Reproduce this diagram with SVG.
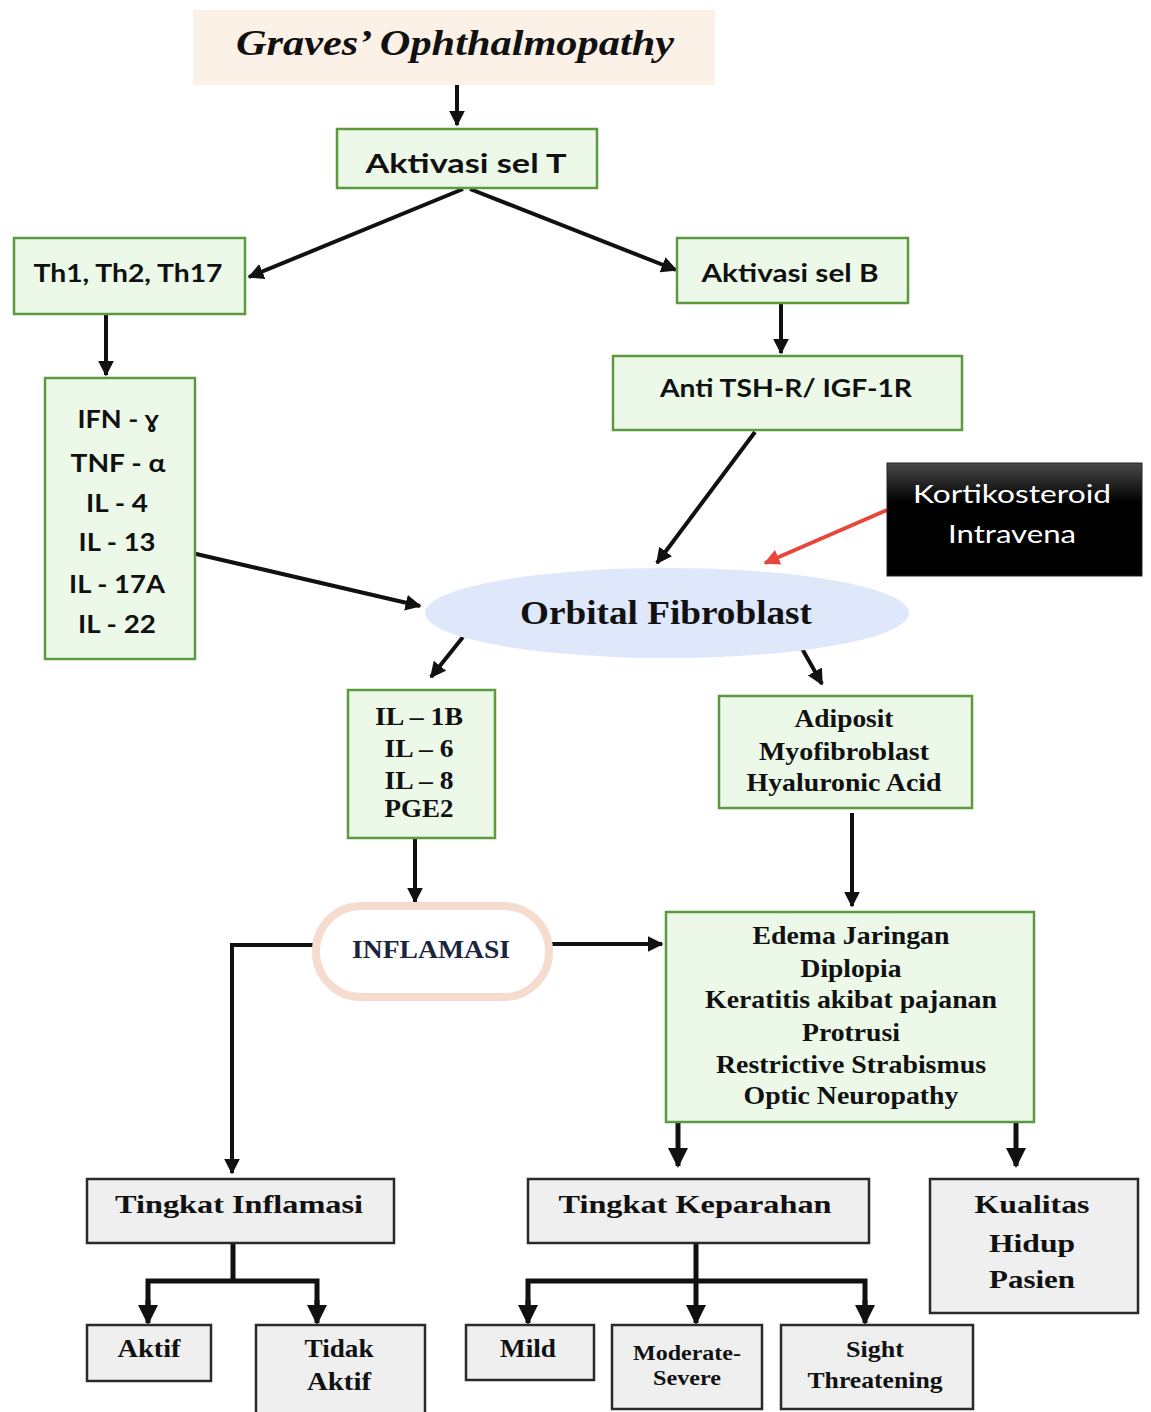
<svg xmlns="http://www.w3.org/2000/svg" width="1151" height="1412" viewBox="0 0 1151 1412">
<defs>
<style>
.g{fill:#ecf9e9;stroke:#5b9a3e;stroke-width:2.5}
.gr{fill:#efefef;stroke:#2a2a2a;stroke-width:2.5}
.s{font-family:Lato,"Open Sans","Liberation Sans",sans-serif;font-weight:bold;fill:#111;text-anchor:middle}
.t{font-family:"Liberation Serif","DejaVu Serif",serif;font-weight:bold;fill:#111;text-anchor:middle}
.c{stroke:#111;stroke-width:4;fill:none}
.ct{stroke:#111;stroke-width:5;fill:none}
</style>
<marker id="ah" viewBox="0 0 10 10" refX="9" refY="5" markerWidth="16" markerHeight="16" markerUnits="userSpaceOnUse" orient="auto">
<path d="M0,0 L10,5 L0,10 z" fill="#111"/>
</marker>
<marker id="ahb" viewBox="0 0 10 10" refX="9" refY="5" markerWidth="20" markerHeight="20" markerUnits="userSpaceOnUse" orient="auto">
<path d="M0,0 L10,5 L0,10 z" fill="#111"/>
</marker>
<marker id="ahr" viewBox="0 0 10 10" refX="9" refY="5" markerWidth="16" markerHeight="16" markerUnits="userSpaceOnUse" orient="auto">
<path d="M0,0 L10,5 L0,10 z" fill="#e8463a"/>
</marker>
<linearGradient id="kg" x1="0" y1="0" x2="0" y2="1">
<stop offset="0" stop-color="#4a4a4a"/>
<stop offset="0.35" stop-color="#000"/>
<stop offset="1" stop-color="#000"/>
</linearGradient>
</defs>
<rect width="1151" height="1412" fill="#fff"/>

<g id="connectors">
<line class="c" x1="457" y1="85" x2="457" y2="125" marker-end="url(#ah)"/>
<line class="c" x1="463" y1="189" x2="249" y2="277" marker-end="url(#ah)"/>
<line class="c" x1="470" y1="189" x2="676" y2="270" marker-end="url(#ah)"/>
<line class="c" x1="106" y1="314" x2="106" y2="375" marker-end="url(#ah)"/>
<line class="c" x1="781" y1="303" x2="781" y2="353" marker-end="url(#ah)"/>
<line class="c" x1="755" y1="432" x2="657" y2="563" marker-end="url(#ah)"/>
<line x1="887" y1="510" x2="765" y2="563" stroke="#e8463a" stroke-width="4" marker-end="url(#ahr)"/>
<line class="c" x1="192" y1="553" x2="420" y2="606" marker-end="url(#ah)"/>
<line class="c" x1="463" y1="637" x2="431" y2="677" marker-end="url(#ah)"/>
<line class="c" x1="800" y1="645" x2="822" y2="684" marker-end="url(#ah)"/>
<line class="c" x1="415" y1="838" x2="415" y2="902" marker-end="url(#ah)"/>
<line class="c" x1="852" y1="813" x2="852" y2="906" marker-end="url(#ah)"/>
<polyline class="c" points="315,945 232,945 232,1173" marker-end="url(#ah)"/>
<line class="c" x1="552" y1="944" x2="662" y2="944" marker-end="url(#ah)"/>
<line class="ct" x1="678" y1="1122" x2="678" y2="1166" marker-end="url(#ahb)"/>
<line class="ct" x1="1016" y1="1122" x2="1016" y2="1166" marker-end="url(#ahb)"/>
<line class="ct" x1="233" y1="1243" x2="233" y2="1281"/>
<polyline class="ct" points="148,1310 148,1281 317,1281 317,1310"/>
<line class="ct" x1="148" y1="1300" x2="148" y2="1323" marker-end="url(#ahb)"/>
<line class="ct" x1="317" y1="1300" x2="317" y2="1323" marker-end="url(#ahb)"/>
<line class="ct" x1="696" y1="1243" x2="696" y2="1323" marker-end="url(#ahb)"/>
<polyline class="ct" points="528,1310 528,1281 865,1281 865,1310"/>
<line class="ct" x1="528" y1="1300" x2="528" y2="1323" marker-end="url(#ahb)"/>
<line class="ct" x1="865" y1="1300" x2="865" y2="1323" marker-end="url(#ahb)"/>
</g>

<g id="n-graves">
<rect x="193" y="10" width="522" height="75" fill="#fcf1e7"/>
<text x="455" y="55" font-family="'Liberation Serif',serif" font-style="italic" font-weight="bold" font-size="36" fill="#111" text-anchor="middle" textLength="438" lengthAdjust="spacingAndGlyphs">Graves’ Ophthalmopathy</text>
</g>

<g id="n-selT">
<rect class="g" x="337" y="129" width="260" height="59"/>
<text class="s" x="466" y="173" font-size="27" textLength="201" lengthAdjust="spacingAndGlyphs">Aktivasi sel T</text>
</g>

<g id="n-th">
<rect class="g" x="14" y="238" width="231" height="76"/>
<text class="s" x="128" y="282" font-size="25" textLength="189" lengthAdjust="spacingAndGlyphs">Th1, Th2, Th17</text>
</g>

<g id="n-selB">
<rect class="g" x="677" y="238" width="231" height="65"/>
<text class="s" x="790" y="282" font-size="25" textLength="177" lengthAdjust="spacingAndGlyphs">Aktivasi sel B</text>
</g>

<g id="n-ifn">
<rect class="g" x="45" y="378" width="150" height="281"/>
<text class="s" x="118" y="428" font-size="24" textLength="81" lengthAdjust="spacingAndGlyphs">IFN - ɣ</text>
<text class="s" x="118" y="472" font-size="24" textLength="95" lengthAdjust="spacingAndGlyphs">TNF - α</text>
<text class="s" x="117" y="512" font-size="24" textLength="62" lengthAdjust="spacingAndGlyphs">IL - 4</text>
<text class="s" x="117" y="551" font-size="24" textLength="77" lengthAdjust="spacingAndGlyphs">IL - 13</text>
<text class="s" x="117" y="593" font-size="24" textLength="96" lengthAdjust="spacingAndGlyphs">IL - 17A</text>
<text class="s" x="117" y="633" font-size="24" textLength="78" lengthAdjust="spacingAndGlyphs">IL - 22</text>
</g>

<g id="n-anti">
<rect class="g" x="613" y="356" width="349" height="74"/>
<text class="s" x="786" y="397" font-size="25" textLength="252" lengthAdjust="spacingAndGlyphs">Anti TSH-R/ IGF-1R</text>
</g>

<g id="n-korti">
<rect x="887" y="463" width="255" height="113" fill="url(#kg)" stroke="#222" stroke-width="1"/>
<text x="1012" y="503" font-family="Lato,'Open Sans',sans-serif" font-size="25" fill="#fff" text-anchor="middle" textLength="198" lengthAdjust="spacingAndGlyphs">Kortikosteroid</text>
<text x="1012" y="543" font-family="Lato,'Open Sans',sans-serif" font-size="25" fill="#fff" text-anchor="middle" textLength="128" lengthAdjust="spacingAndGlyphs">Intravena</text>
</g>

<g id="n-fibro">
<ellipse cx="667" cy="613" rx="242" ry="45" fill="#dfe7fb"/>
<text class="t" x="666" y="624" font-size="33" textLength="292" lengthAdjust="spacingAndGlyphs">Orbital Fibroblast</text>
</g>

<g id="n-il">
<rect class="g" x="348" y="690" width="147" height="148"/>
<text class="t" x="419" y="725" font-size="25" textLength="88" lengthAdjust="spacingAndGlyphs">IL – 1B</text>
<text class="t" x="419" y="757" font-size="25" textLength="69" lengthAdjust="spacingAndGlyphs">IL – 6</text>
<text class="t" x="419" y="789" font-size="25" textLength="69" lengthAdjust="spacingAndGlyphs">IL – 8</text>
<text class="t" x="419" y="817" font-size="25" textLength="69" lengthAdjust="spacingAndGlyphs">PGE2</text>
</g>

<g id="n-adip">
<rect class="g" x="719" y="696" width="253" height="112"/>
<text class="t" x="844" y="727" font-size="25" textLength="99" lengthAdjust="spacingAndGlyphs">Adiposit</text>
<text class="t" x="844" y="760" font-size="25" textLength="170" lengthAdjust="spacingAndGlyphs">Myofibroblast</text>
<text class="t" x="844" y="791" font-size="25" textLength="195" lengthAdjust="spacingAndGlyphs">Hyaluronic Acid</text>
</g>

<g id="n-inflamasi">
<rect x="316" y="906" width="233" height="91" rx="45" ry="45" fill="#fff" stroke="#f6dccf" stroke-width="8"/>
<text class="t" x="431" y="958" font-size="25" style="fill:#1c2540" textLength="158" lengthAdjust="spacingAndGlyphs">INFLAMASI</text>
</g>

<g id="n-gejala">
<rect class="g" x="666" y="912" width="368" height="210"/>
<text class="t" x="851" y="944" font-size="25" textLength="197" lengthAdjust="spacingAndGlyphs">Edema Jaringan</text>
<text class="t" x="851" y="977" font-size="25" textLength="101" lengthAdjust="spacingAndGlyphs">Diplopia</text>
<text class="t" x="851" y="1008" font-size="25" textLength="292" lengthAdjust="spacingAndGlyphs">Keratitis akibat pajanan</text>
<text class="t" x="851" y="1041" font-size="25" textLength="98" lengthAdjust="spacingAndGlyphs">Protrusi</text>
<text class="t" x="851" y="1073" font-size="25" textLength="270" lengthAdjust="spacingAndGlyphs">Restrictive Strabismus</text>
<text class="t" x="851" y="1104" font-size="25" textLength="215" lengthAdjust="spacingAndGlyphs">Optic Neuropathy</text>
</g>

<g id="n-tinf">
<rect class="gr" x="87" y="1179" width="307" height="64"/>
<text class="t" x="239" y="1213" font-size="26" textLength="248" lengthAdjust="spacingAndGlyphs">Tingkat Inflamasi</text>
</g>

<g id="n-tkep">
<rect class="gr" x="528" y="1179" width="341" height="64"/>
<text class="t" x="695" y="1213" font-size="26" textLength="273" lengthAdjust="spacingAndGlyphs">Tingkat Keparahan</text>
</g>

<g id="n-kual">
<rect class="gr" x="930" y="1179" width="208" height="134"/>
<text class="t" x="1032" y="1213" font-size="26" textLength="115" lengthAdjust="spacingAndGlyphs">Kualitas</text>
<text class="t" x="1032" y="1252" font-size="26" textLength="86" lengthAdjust="spacingAndGlyphs">Hidup</text>
<text class="t" x="1032" y="1288" font-size="26" textLength="86" lengthAdjust="spacingAndGlyphs">Pasien</text>
</g>

<g id="n-aktif">
<rect class="gr" x="87" y="1325" width="124" height="56"/>
<text class="t" x="149" y="1357" font-size="25" textLength="63" lengthAdjust="spacingAndGlyphs">Aktif</text>
</g>

<g id="n-tidak">
<rect class="gr" x="256" y="1325" width="169" height="95"/>
<text class="t" x="339" y="1357" font-size="25" textLength="69" lengthAdjust="spacingAndGlyphs">Tidak</text>
<text class="t" x="339" y="1390" font-size="25" textLength="64" lengthAdjust="spacingAndGlyphs">Aktif</text>
</g>

<g id="n-mild">
<rect class="gr" x="466" y="1325" width="128" height="55"/>
<text class="t" x="528" y="1357" font-size="25" textLength="56" lengthAdjust="spacingAndGlyphs">Mild</text>
</g>

<g id="n-mod">
<rect class="gr" x="612" y="1325" width="150" height="84"/>
<text class="t" x="687" y="1360" font-size="20" textLength="108" lengthAdjust="spacingAndGlyphs">Moderate-</text>
<text class="t" x="687" y="1385" font-size="20" textLength="68" lengthAdjust="spacingAndGlyphs">Severe</text>
</g>

<g id="n-sight">
<rect class="gr" x="781" y="1325" width="192" height="84"/>
<text class="t" x="875" y="1357" font-size="23" textLength="58" lengthAdjust="spacingAndGlyphs">Sight</text>
<text class="t" x="875" y="1388" font-size="23" textLength="135" lengthAdjust="spacingAndGlyphs">Threatening</text>
</g>
</svg>
